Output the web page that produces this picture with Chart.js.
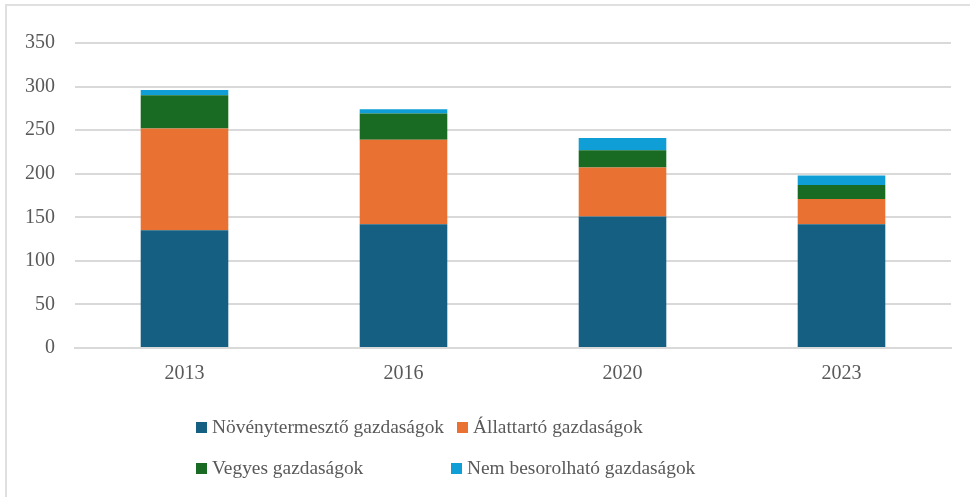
<!DOCTYPE html>
<html lang="hu">
  <head>
    <meta charset="UTF-8" />
    <title>Gazdaságok típus szerint</title>
    <script src="https://cdn.jsdelivr.net/npm/chart.js"></script>
    <style>
      body { margin: 0; background: #fff; }
      #wrap { position: relative; width: 970px; height: 497px; overflow: hidden; }
      #frame {
        position: absolute; left: 5px; top: 4px; width: 980px; height: 510px;
        border-left: 2px solid #e0e0e0; border-top: 2px solid #e0e0e0;
      }
      #legend {
        position: absolute; left: 196px; top: 415px;
        display: grid; grid-template-columns: 255px auto; row-gap: 17px;
        font: 19.4px "Liberation Serif", serif; color: #595959;
      }
      .item { display: flex; align-items: center; white-space: nowrap; line-height: 24px; }
      .box { width: 11px; height: 11px; margin-right: 5px; }
    </style>
  </head>
  <body>
    <div id="wrap">
      <canvas id="chart" width="970" height="497"></canvas>
      <div id="frame"></div>
      <div id="legend"></div>
    </div>
    <script>
      const years = ["2013", "2016", "2020", "2023"];
      const novenytermeszto = [135, 142, 151, 142];
      const allattarto = [117, 97, 56, 29];
      const vegyes = [38, 30, 20, 16];
      const nemBesorolhato = [6, 5, 14, 11];

      const seriesNames = [
        "Növénytermesztő gazdaságok",
        "Állattartó gazdaságok",
        "Vegyes gazdaságok",
        "Nem besorolható gazdaságok",
      ];
      const colors = ["#156082", "#E97132", "#196B24", "#0F9ED5"];
      const values = [novenytermeszto, allattarto, vegyes, nemBesorolhato];

      const font = { family: "'Liberation Serif', serif", size: 20 };

      new Chart(document.getElementById("chart"), {
        type: "bar",
        data: {
          labels: years,
          datasets: values.map((v, i) => ({
            label: seriesNames[i],
            data: v,
            backgroundColor: colors[i],
            borderWidth: 0,
            categoryPercentage: 1,
            barPercentage: 0.4,
          })),
        },
        options: {
          responsive: false,
          animation: false,
          layout: { padding: { left: 5, right: 19, top: 43, bottom: 97 } },
          plugins: { legend: { display: false }, tooltip: { enabled: false } },
          scales: {
            x: {
              stacked: true,
              grid: { display: false, drawTicks: false },
              border: { color: "#d9d9d9", width: 2 },
              ticks: { color: "#595959", font: font, padding: 14 },
            },
            y: {
              stacked: true,
              min: 0,
              max: 350,
              ticks: { stepSize: 50, color: "#595959", font: font, padding: 20 },
              grid: { color: "#d9d9d9", lineWidth: 2, drawTicks: false },
              border: { display: false },
            },
          },
        },
      });

      // legend in two columns, like the original
      const legend = document.getElementById("legend");
      seriesNames.forEach((name, i) => {
        const item = document.createElement("div");
        item.className = "item";
        if (i === 1) item.style.marginLeft = "6px";
        item.innerHTML = '<span class="box" style="background:' + colors[i] + '"></span>' + name;
        legend.appendChild(item);
      });
    </script>
  </body>
</html>
